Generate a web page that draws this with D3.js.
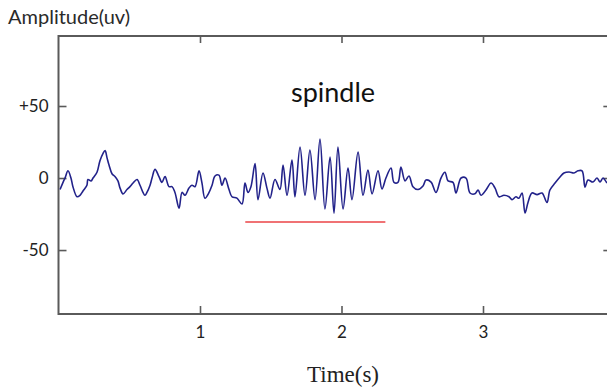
<!DOCTYPE html>
<html>
<head>
<meta charset="utf-8">
<script src="https://cdn.jsdelivr.net/npm/d3@7"></script>
<style>
  html, body { margin: 0; padding: 0; background: #fff; }
  svg { display: block; }
</style>
</head>
<body>
<div id="chart"></div>
<script>
// EEG trace: time in seconds, amplitude in microvolts
const timeSec = [
  0.011, 0.032, 0.046, 0.067, 0.088, 0.102, 0.131, 0.152, 0.173, 0.201,
  0.208, 0.230, 0.244, 0.272, 0.293, 0.314, 0.329, 0.343, 0.357, 0.378,
  0.399, 0.420, 0.435, 0.456, 0.484, 0.505, 0.527, 0.555, 0.576, 0.597,
  0.611, 0.625, 0.647, 0.661, 0.682, 0.710, 0.731, 0.753, 0.781, 0.802,
  0.823, 0.852, 0.873, 0.894, 0.922, 0.943, 0.965, 0.993, 1.014, 1.035,
  1.064, 1.085, 1.106, 1.134, 1.155, 1.177, 1.205, 1.226, 1.261, 1.297,
  1.318, 1.339, 1.360, 1.389, 1.410, 1.445, 1.473, 1.495, 1.530, 1.565,
  1.587, 1.615, 1.650, 1.671, 1.707, 1.742, 1.777, 1.813, 1.848, 1.883,
  1.919, 1.947, 1.975, 2.011, 2.046, 2.074, 2.117, 2.152, 2.187, 2.216,
  2.258, 2.286, 2.314, 2.350, 2.371, 2.399, 2.420, 2.449, 2.477, 2.505,
  2.541, 2.576, 2.597, 2.633, 2.668, 2.703, 2.731, 2.753, 2.788, 2.809,
  2.845, 2.880, 2.908, 2.943, 2.965, 2.986, 3.021, 3.057, 3.085, 3.113,
  3.148, 3.184, 3.205, 3.233, 3.254, 3.276, 3.297, 3.318, 3.346, 3.382,
  3.417, 3.452, 3.473, 3.509, 3.544, 3.572, 3.608, 3.643, 3.671, 3.700,
  3.721, 3.742, 3.777, 3.806, 3.827, 3.848, 3.876
];
const amplitudeUv = [
  -8, -3, 0, 5, 0, -6, -13, -12, -9, -5,
  -1, -2, 0, 4, 12, 17, 19, 14, 9, 3,
  1, -2, -7, -11, -8, -6, -3.5, -1, -5, -10,
  -12, -10, -5, 0, 6, 1, -3, 1, -6, -6,
  -10, -21, -10, -12, -7, -5, -6, 5, -3.5, -14,
  -10, -5, 1.4, 2, -5, 0, -8, -13, -14, -18,
  -3.5, -10, -6, 10, -15, 3.5, -7, -14, -1, -8,
  9, -12, 12.5, -13, 21.5, -12, 19.5, -15, 27, -21.5,
  14.5, -24.5, 21.5, -21.5, 7, -15, 18, -12, 5.5, -11,
  5, -7.6, 0, 7, -3, -3, 7.6, -2, 1.4, -6,
  -8, -5.6, -1.4, -2.8, -10, 0, 4, -2, -3, -10.4,
  0, 0, -10.4, -11, -8.3, -12, -8.3, -3.5, -7, -13,
  -12, -13, -15, -13, -14, -10.4, -24.3, -17, -10.4, -11.5,
  -10.4, -17, -8.3, -3.5, 0.7, 3.5, 4.2, 3.5, 5, 5,
  -6.3, -1.4, -2.8, 0, -2.8, 0, -3.5
];

// Axis ticks
const timeTicks = [1, 2, 3];
const ampTicks = [50, 0, -50];
const ampTickLabels = ["+50", "0", "-50"];

// Spindle marker interval (s) and its level (uV)
const spindleSpan = [1.32, 2.31];
const spindleLevel = -30.5;

const W = 607, H = 389;
const plot = { left: 58.5, right: 610.35, top: 36, bottom: 314 };

const x = d3.scaleLinear().domain([0, 3.9]).range([plot.left, plot.right]);
const y = d3.scaleLinear().domain([-94.4, 98.6]).range([plot.bottom, plot.top]);

const svg = d3.select("#chart").append("svg")
  .attr("width", W).attr("height", H)
  .style("background", "#fff");

const frameColor = "#5a5a5a";
const sans = "Lato, 'Open Sans', sans-serif";

// Frame
svg.append("rect")
  .attr("x", plot.left).attr("y", plot.top)
  .attr("width", plot.right - plot.left).attr("height", plot.bottom - plot.top)
  .attr("fill", "none").attr("stroke", frameColor).attr("stroke-width", 2);

// Axes with inward ticks
const axisBottom = d3.axisBottom(x).tickValues(timeTicks).tickSize(-8).tickPadding(12)
  .tickFormat(d3.format("d"));
const axisTop = d3.axisTop(x).tickValues(timeTicks).tickSize(-7).tickFormat("");
const axisLeft = d3.axisLeft(y).tickValues(ampTicks).tickSize(-8).tickPadding(10)
  .tickFormat((d, i) => ampTickLabels[i]);
const axisRight = d3.axisRight(y).tickValues(ampTicks).tickSize(-7).tickFormat("");

function styleAxis(g) {
  g.select(".domain").remove();
  g.selectAll(".tick line").attr("stroke", frameColor).attr("stroke-width", 1.6);
  g.selectAll(".tick text").attr("fill", "#222")
    .style("font-family", sans).style("font-size", "17px");
}

svg.append("g").attr("transform", `translate(0,${plot.bottom})`).call(axisBottom).call(styleAxis);
svg.append("g").attr("transform", `translate(0,${plot.top})`).call(axisTop).call(styleAxis);
svg.append("g").attr("transform", `translate(${plot.left},0)`).call(axisLeft).call(styleAxis);
svg.append("g").attr("transform", `translate(${plot.right},0)`).call(axisRight).call(styleAxis);

// Trace
const pts = timeSec.map((t, i) => [t, amplitudeUv[i]]);
const line = d3.line()
  .x(d => x(d[0])).y(d => y(d[1]))
  .curve(d3.curveCatmullRom.alpha(0.5));

svg.append("path")
  .datum(pts)
  .attr("d", line)
  .attr("fill", "none")
  .attr("stroke", "#22228a")
  .attr("stroke-width", 1.6)
  .attr("stroke-linejoin", "round");

// Spindle marker
svg.append("line")
  .attr("x1", x(spindleSpan[0])).attr("x2", x(spindleSpan[1]))
  .attr("y1", y(spindleLevel)).attr("y2", y(spindleLevel))
  .attr("stroke", "#f07274").attr("stroke-width", 2);

// Labels
svg.append("text")
  .attr("x", 8).attr("y", 24)
  .attr("fill", "#2a2a2a")
  .style("font-family", sans).style("font-size", "20px")
  .text("Amplitude(uv)");

svg.append("text")
  .attr("x", 333).attr("y", 102)
  .attr("text-anchor", "middle")
  .attr("fill", "#111")
  .style("font-family", sans).style("font-size", "27px")
  .text("spindle");

svg.append("text")
  .attr("x", 343).attr("y", 382)
  .attr("text-anchor", "middle")
  .attr("fill", "#222")
  .style("font-family", "'Liberation Serif', 'DejaVu Serif', serif")
  .style("font-size", "23px")
  .text("Time(s)");
</script>
</body>
</html>
